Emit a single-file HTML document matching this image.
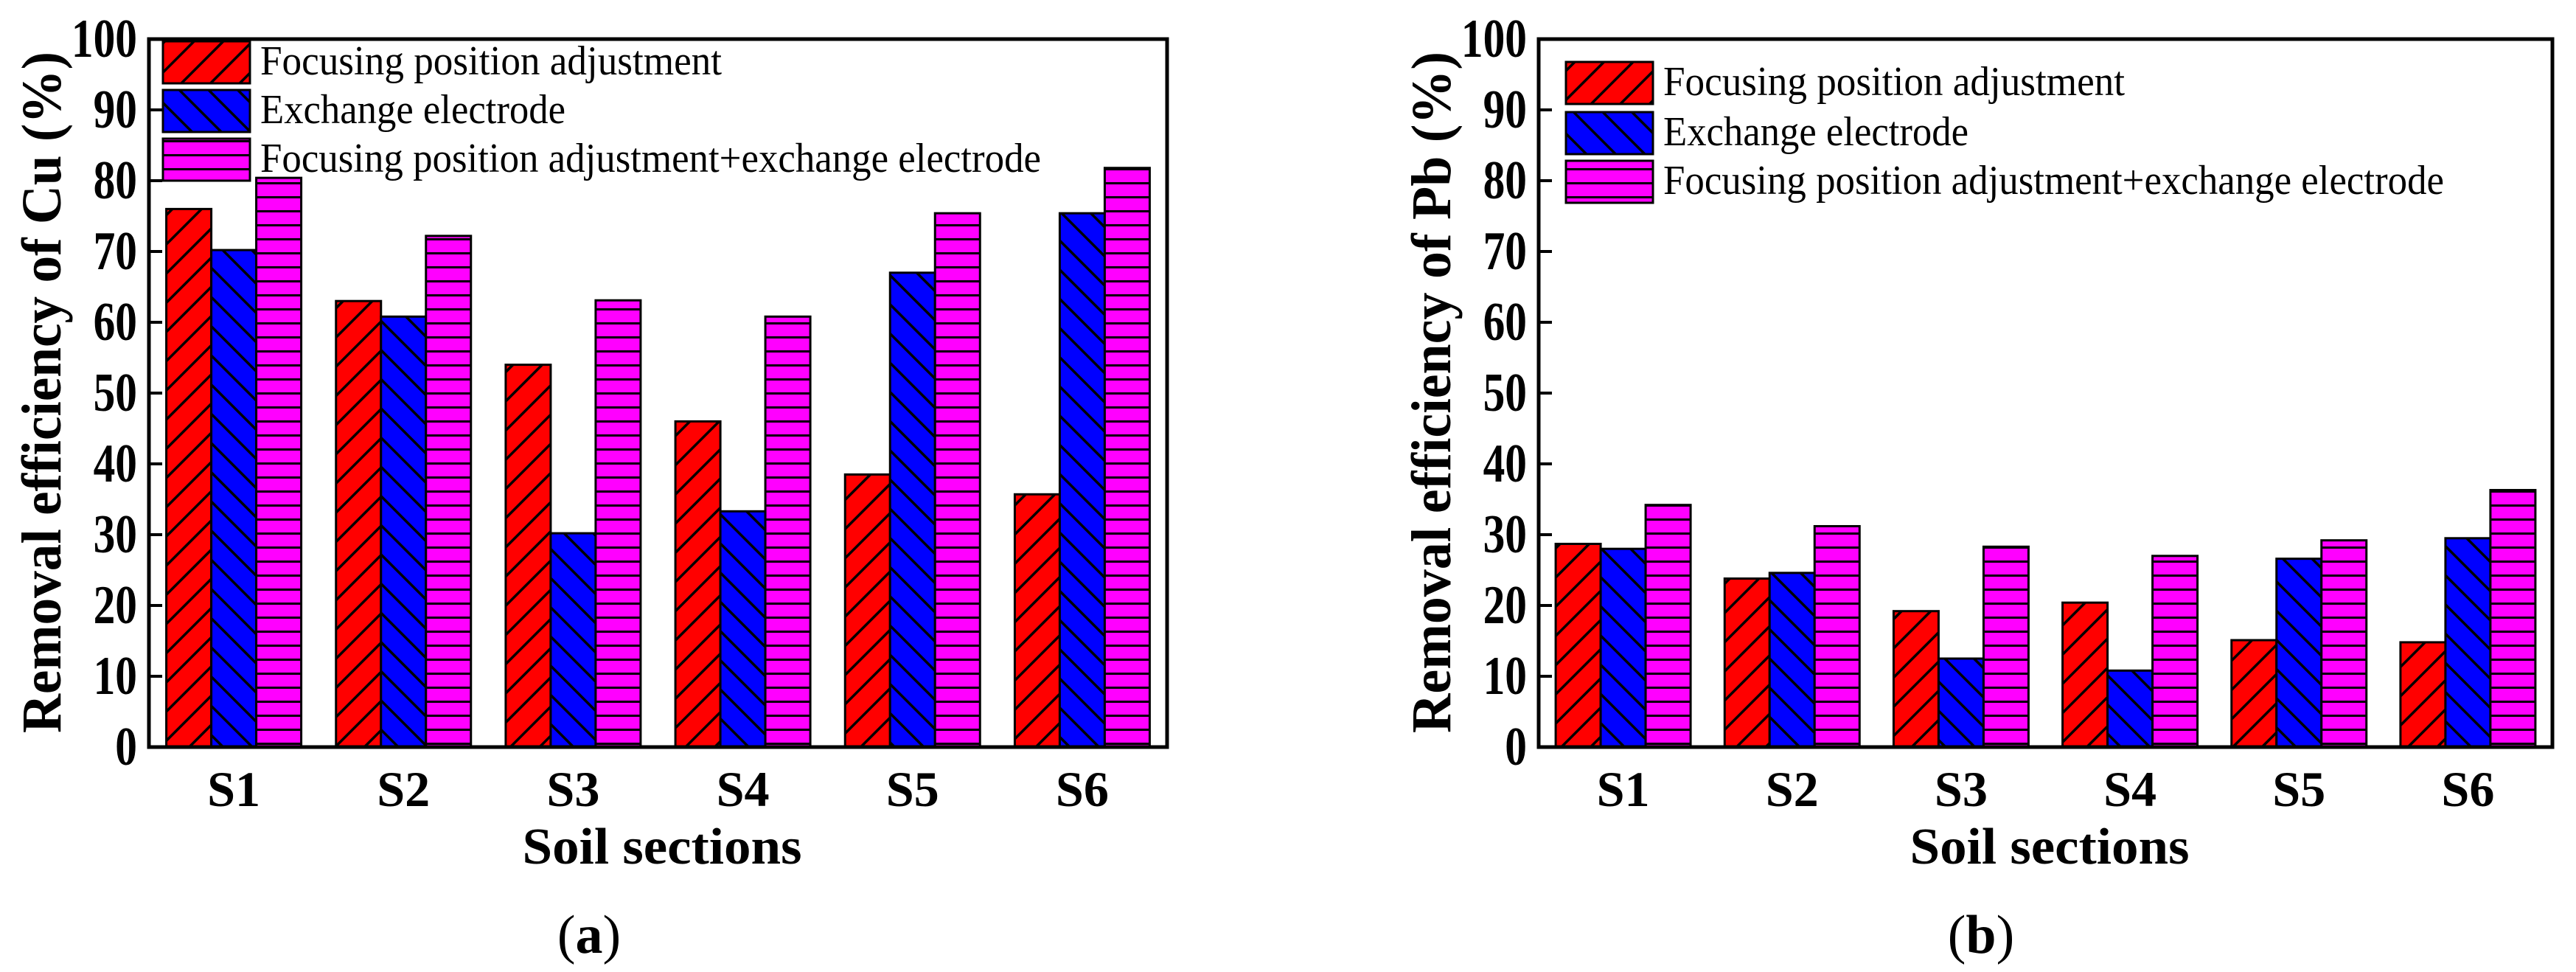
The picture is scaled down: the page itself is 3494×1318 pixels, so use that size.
<!DOCTYPE html>
<html><head><meta charset="utf-8"><style>
html,body{margin:0;padding:0;background:#fff;}
svg{display:block;}
</style></head><body>
<svg id="fig" width="3494" height="1318" viewBox="0 0 3494 1318" xmlns="http://www.w3.org/2000/svg" font-family="'Liberation Serif', serif">
<defs>
<pattern id="hatchR" patternUnits="userSpaceOnUse" width="28" height="28" patternTransform="rotate(45)">
<rect width="28" height="28" fill="#ff0000"/><rect x="0" y="0" width="3.5" height="28" fill="#000"/></pattern>
<pattern id="hatchB" patternUnits="userSpaceOnUse" width="28" height="28" patternTransform="rotate(-45)">
<rect width="28" height="28" fill="#0000ff"/><rect x="0" y="0" width="3.5" height="28" fill="#000"/></pattern>
<pattern id="hatchM" patternUnits="userSpaceOnUse" width="19" height="19">
<rect width="19" height="19" fill="#ff00ff"/><rect x="0" y="0" width="19" height="3" fill="#000"/></pattern>
</defs>
</svg>
<script>
const categories = ["S1","S2","S3","S4","S5","S6"];
const seriesNames = ["Focusing position adjustment","Exchange electrode","Focusing position adjustment+exchange electrode"];
const cuRed = [76, 63, 54, 46, 38.5, 35.7];
const cuBlue = [70.2, 60.8, 30.2, 33.3, 67, 75.4];
const cuMag = [80.4, 72.2, 63.1, 60.8, 75.4, 81.8];
const pbRed = [28.7, 23.8, 19.2, 20.4, 15.1, 14.8];
const pbBlue = [28, 24.6, 12.5, 10.8, 26.6, 29.5];
const pbMag = [34.2, 31.2, 28.3, 27, 29.2, 36.3];
const yTicks = [0,10,20,30,40,50,60,70,80,90,100];

const NS = "http://www.w3.org/2000/svg";
const svg = document.getElementById('fig');
function mk(tag, attrs, parent){
  const e = document.createElementNS(NS, tag);
  for (const k in attrs) e.setAttribute(k, attrs[k]);
  (parent||svg).appendChild(e); return e;
}
const fills = ["url(#hatchR)","url(#hatchB)","url(#hatchM)"];

function panel(p){
  const g = mk('g', {});
  
  
  const y = v => p.y1 - (v/100)*(p.y1-p.y0);
  const band = (p.x1-p.x0)/categories.length;
  const bw = 61;
  const xBand = i => p.x0 + band*i + band/2;
  p.series.forEach((arr, s) => {
    arr.forEach((v, i) => {
      const bx = xBand(i) - 1.5*bw + s*bw;
      const r = mk('rect', {x:bx, y:y(v), width:bw, height:y(0)-y(v), fill:fills[s], stroke:'#000', 'stroke-width':3}, g);
      
      
    });
  });
  const f = mk('rect', {x:p.x0, y:p.y0, width:p.x1-p.x0, height:p.y1-p.y0, fill:'none', stroke:'#000', 'stroke-width':5}, g);
  
  
  yTicks.forEach(t => {
    const l = mk('line', {x1:p.x0, x2:p.x0+18, y1:y(t), y2:y(t), stroke:'#000', 'stroke-width':4}, g);
    
    
    const tx = mk('text', {x:0, y:0, 'text-anchor':'end', 'font-size':66, 'font-weight':'bold', transform:`translate(${p.tickX},${y(t)+24}) scale(0.9,1.12)`}, g);
    tx.textContent = t;
    
    
  });
  categories.forEach((c, i) => {
    const tx = mk('text', {x:xBand(i), y:1093, 'text-anchor':'middle', 'font-size':68, 'font-weight':'bold', textLength:72, lengthAdjust:'spacingAndGlyphs'}, g);
    tx.textContent = c;
    
    
  });
  const xt = mk('text', {x:p.xTitleX, y:1171, 'text-anchor':'middle', 'font-size':70, 'font-weight':'bold', textLength:379, lengthAdjust:'spacingAndGlyphs'}, g);
  xt.textContent = 'Soil sections';
  
  
  const yt = mk('text', {x:0, y:0, 'text-anchor':'middle', 'font-size':76, 'font-weight':'bold', textLength:p.yTitleLen, lengthAdjust:'spacingAndGlyphs', transform:`translate(${p.yTitleX},${p.yTitleY}) rotate(-90)`}, g);
  yt.textContent = p.yTitle;
  
  
  const cap = mk('text', {x:p.capX, y:1292, 'text-anchor':'middle', 'font-size':74}, g);
  cap.innerHTML = '(<tspan font-weight="bold">' + p.cap + '</tspan>)';
  
  
  p.legY.forEach((cy, s) => {
    const sw = mk('rect', {x:p.legX, y:cy-28, width:118, height:57, fill:fills[s], stroke:'#000', 'stroke-width':3}, g);
    
    
    const lt = mk('text', {x:p.legX+132, y:cy+17, 'font-size':56, textLength:p.legLens[s], lengthAdjust:'spacingAndGlyphs'}, g);
    lt.textContent = seriesNames[s];
    
    
  });
}

panel({name:'panel-a-cu', x0:202, x1:1583, y0:53, y1:1013, series:[cuRed,cuBlue,cuMag], tickX:186,
  xTitleX:898, yTitleX:82, yTitleY:532, yTitleLen:924, yTitle:'Removal efficiency of Cu (%)', capX:799, cap:'a',
  legX:221, legY:[84,150,216], legLens:[626,414,1059]});
panel({name:'panel-b-pb', x0:2087, x1:3462, y0:53, y1:1013, series:[pbRed,pbBlue,pbMag], tickX:2071,
  xTitleX:2780, yTitleX:1967, yTitleY:532, yTitleLen:924, yTitle:'Removal efficiency of  Pb (%)', capX:2687, cap:'b',
  legX:2124, legY:[112,180,246], legLens:[626,414,1059]});
</script>
</body></html>
